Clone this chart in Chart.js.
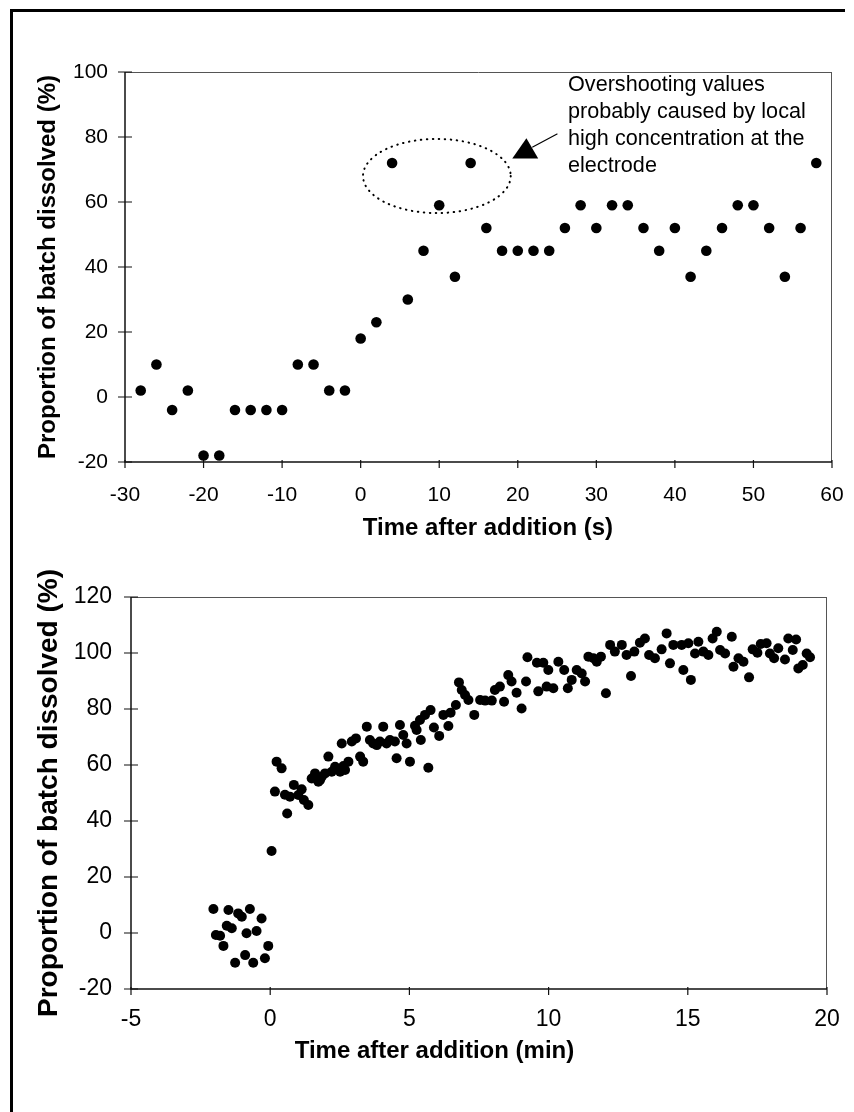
<!DOCTYPE html>
<html><head><meta charset="utf-8">
<script src="https://cdn.jsdelivr.net/npm/chart.js@4"></script>
<style>
html,body{margin:0;padding:0;background:#fff;}
#page{position:relative;width:854px;height:1112px;overflow:hidden;background:#fff;}
canvas{position:absolute;left:0;}
#c1{top:0;} #c2{top:560px;}
#frameL{position:absolute;left:10px;top:9px;width:3px;height:1103px;background:#000;}
#frameT{position:absolute;left:10px;top:9px;width:835px;height:3px;background:#000;}
</style></head>
<body>
<div id="page">
<canvas id="c1" width="854" height="560"></canvas>
<canvas id="c2" width="854" height="552"></canvas>
<div id="frameL"></div><div id="frameT"></div>
</div>
<script>
// ---------- DATA: top chart (seconds) ----------
const topTime = [-28,-26,-24,-22,-20,-18,-16,-14,-12,-10,-8,-6,-4,-2,0,2,4,6,8,10,12,14,16,18,20,22,24,26,28,30,32,34,36,38,40,42,44,46,48,50,52,54,56,58];
const topValue = [2,10,-4,2,-18,-18,-4,-4,-4,-4,10,10,2,2,18,23,72,30,45,59,37,72,52,45,45,45,45,52,59,52,59,59,52,45,52,37,45,52,59,59,52,37,52,72];
const topXTicks = [-30,-20,-10,0,10,20,30,40,50,60];
const topYTicks = [-20,0,20,40,60,80,100];
const topXTitle = "Time after addition (s)";
const yTitle = "Proportion of batch dissolved (%)";
const noteLines = ["Overshooting values","probably caused by local","high concentration at the","electrode"];
const ellipseCenter = [9.7, 68];   // data units (s, %)
const ellipseRadius = [9.4, 11.4]; // data units
const noteAnchor = [26.4, 94.2];   // left/baseline of first note line, data units
const arrowHead = [[21.1,79.6],[19.3,73.4],[22.6,73.4]];
const arrowLine = [[21.9,76.9],[25.0,80.9]];

// ---------- DATA: bottom chart (minutes) ----------
const botTime = [-2.04,-1.95,-1.8,-1.68,-1.56,-1.5,-1.38,-1.26,-1.15,-1.02,-0.9,-0.85,-0.73,-0.61,-0.49,-0.31,-0.19,-0.07,
0.05,0.17,0.23,0.41,0.53,0.61,0.71,0.85,1.01,1.13,1.21,1.37,1.49,1.61,1.73,1.79,1.85,1.97,2.09,2.21,2.33,2.51,2.57,2.63,2.69,2.81,2.93,3.08,3.23,3.34,3.47,3.58,3.70,3.83,3.94,4.06,4.18,4.30,4.48,4.54,4.66,4.78,4.90,5.02,5.20,5.26,5.38,5.41,5.56,5.68,5.76,5.88,6.07,6.22,6.40,6.48,6.67,6.78,6.88,7.0,7.12,7.33,7.54,7.72,7.96,8.07,8.25,8.40,8.55,8.67,8.85,9.03,9.19,9.24,
9.58,9.81,9.63,9.99,9.93,10.17,10.35,10.56,10.69,10.83,11.01,11.19,11.31,11.43,11.61,11.73,11.88,12.06,12.21,12.38,12.63,12.80,12.96,13.08,13.28,13.46,13.61,13.82,14.06,14.24,14.36,14.48,
14.78,14.84,15.02,15.11,15.26,15.38,15.56,15.74,15.89,16.04,16.16,16.34,16.58,16.64,16.82,17.0,17.2,17.33,17.50,17.62,17.83,17.95,18.10,18.25,18.49,18.61,18.77,18.89,18.97,19.13,19.27,19.39];
const botValue = [8.6,-0.7,-1.0,-4.6,2.6,8.2,1.7,-10.6,7.0,5.8,-7.9,-0.1,8.6,-10.6,0.7,5.2,-9.0,-4.6,
29.3,50.5,61.2,58.8,49.4,42.7,48.7,52.9,49.3,51.3,47.5,45.7,55.2,57.0,54.0,54.6,55.8,57.0,63.0,57.6,59.4,57.6,67.7,59.6,58.2,61.2,68.4,69.5,63.0,61.2,73.7,68.9,67.7,67.1,68.4,73.7,67.7,68.9,68.4,62.4,74.3,70.7,67.7,61.2,74.0,72.5,76.1,68.9,77.9,59.0,79.6,73.4,70.4,77.9,73.9,78.7,81.4,89.5,86.8,85.0,83.2,77.9,83.2,83.0,83.0,86.8,88.0,82.6,92.1,89.8,85.8,80.2,89.8,98.5,
96.5,96.5,86.3,93.9,88.0,87.4,96.9,93.9,87.4,90.4,93.9,92.7,89.8,98.7,98.1,96.9,98.7,85.6,102.9,100.5,102.9,99.3,91.8,100.5,103.7,105.2,99.3,98.1,101.3,107.0,96.3,102.9,
102.9,93.9,103.5,90.4,99.8,104.0,100.5,99.3,105.2,107.6,101.1,99.8,105.8,95.1,98.1,96.9,91.3,101.3,100.1,103.2,103.5,99.8,98.1,101.7,97.7,105.2,101.1,104.8,94.5,95.7,99.8,98.5];
const botXTicks = [-5,0,5,10,15,20];
const botYTicks = [-20,0,20,40,60,80,100,120];
const botXTitle = "Time after addition (min)";

// ---------- helpers ----------
const FONT = '"Liberation Sans", Arial, Helvetica, sans-serif';
const toPts = (xs, ys) => xs.map((t, i) => ({x: t, y: ys[i]}));

const frameTicks = {
  id: 'frameTicks',
  beforeDatasetsDraw(chart) {
    const {ctx, chartArea: a, scales: {x, y}} = chart;
    ctx.save();
    ctx.strokeStyle = '#555'; ctx.lineWidth = 1;
    ctx.beginPath();
    ctx.moveTo(a.left, a.top + 0.5); ctx.lineTo(a.right, a.top + 0.5);
    ctx.moveTo(a.right - 0.5, a.top); ctx.lineTo(a.right - 0.5, a.bottom);
    ctx.stroke();
    ctx.strokeStyle = '#111'; ctx.lineWidth = 1.5;
    ctx.beginPath();
    ctx.moveTo(a.left, a.top); ctx.lineTo(a.left, a.bottom); ctx.lineTo(a.right, a.bottom);
    ctx.stroke();
    ctx.lineWidth = 1.2;
    ctx.beginPath();
    x.ticks.forEach(t => { const p = x.getPixelForValue(t.value); ctx.moveTo(p, a.bottom - 2); ctx.lineTo(p, a.bottom + 6); });
    y.ticks.forEach(t => { const p = y.getPixelForValue(t.value); ctx.moveTo(a.left - 7, p); ctx.lineTo(a.left + 7, p); });
    ctx.stroke();
    ctx.restore();
  }
};

const xTitlePlugin = {
  id: 'xTitle',
  afterDraw(chart, args, opts) {
    const {ctx, scales: {x}} = chart;
    ctx.save();
    ctx.font = opts.font;
    ctx.fillStyle = '#000';
    ctx.textAlign = 'center';
    ctx.textBaseline = 'middle';
    ctx.fillText(opts.text, x.getPixelForValue(opts.centerValue), opts.y);
    ctx.restore();
  }
};

const notePlugin = {
  id: 'note',
  afterDatasetsDraw(chart) {
    const {ctx, scales: {x, y}} = chart;
    const X = v => x.getPixelForValue(v), Y = v => y.getPixelForValue(v);
    const cx = X(ellipseCenter[0]), cy = Y(ellipseCenter[1]);
    const rx = Math.abs(X(ellipseCenter[0] + ellipseRadius[0]) - cx);
    const ry = Math.abs(Y(ellipseCenter[1] + ellipseRadius[1]) - cy);
    ctx.save();
    ctx.strokeStyle = '#000'; ctx.lineWidth = 2; ctx.lineCap = 'round';
    ctx.setLineDash([0.5, 5.5]);
    ctx.beginPath(); ctx.ellipse(cx, cy, rx, ry, 0, 0, Math.PI * 2); ctx.stroke();
    ctx.setLineDash([]);
    ctx.lineWidth = 1.2;
    ctx.beginPath();
    ctx.moveTo(X(arrowLine[0][0]), Y(arrowLine[0][1]));
    ctx.lineTo(X(arrowLine[1][0]), Y(arrowLine[1][1]));
    ctx.stroke();
    ctx.fillStyle = '#000';
    ctx.beginPath();
    arrowHead.forEach((p, i) => i ? ctx.lineTo(X(p[0]), Y(p[1])) : ctx.moveTo(X(p[0]), Y(p[1])));
    ctx.closePath(); ctx.fill();
    ctx.font = '21.6px ' + FONT;
    ctx.textAlign = 'left'; ctx.textBaseline = 'alphabetic';
    const lx = X(noteAnchor[0]), ly = Y(noteAnchor[1]);
    noteLines.forEach((s, i) => ctx.fillText(s, lx, ly + i * 27));
    ctx.restore();
  }
};

function makeChart(id, cfg) {
  const fixX = s => { s.height = cfg.xHeight; s.paddingLeft = 0; s.paddingRight = 0; };
  const fixY = s => { s.width = cfg.yWidth; s.paddingTop = 0; s.paddingBottom = 0; };
  return new Chart(document.getElementById(id), {
    type: 'scatter',
    data: { datasets: [{
      data: toPts(cfg.xs, cfg.ys),
      backgroundColor: '#000', borderColor: '#000', borderWidth: 0,
      pointRadius: cfg.radius, pointHoverRadius: cfg.radius
    }]},
    options: {
      responsive: false, animation: false, devicePixelRatio: 1,
      events: [],
      layout: { padding: cfg.padding },
      plugins: { legend: {display: false}, tooltip: {enabled: false},
        xTitle: { text: cfg.xTitle, font: 'bold ' + cfg.xTitleSize + 'px ' + FONT, centerValue: cfg.xTitleCenter, y: cfg.xTitleY } },
      scales: {
        x: {
          type: 'linear', min: cfg.xTicks[0], max: cfg.xTicks[cfg.xTicks.length - 1],
          afterBuildTicks: s => { s.ticks = cfg.xTicks.map(v => ({value: v})); },
          afterFit: fixX,
          grid: { display: false, drawTicks: false }, border: { display: false },
          ticks: { color: '#000', font: { family: FONT, size: cfg.tickSize }, padding: cfg.xTickPad, maxRotation: 0, autoSkip: false },
          title: { display: false }
        },
        y: {
          type: 'linear', min: cfg.yTicks[0], max: cfg.yTicks[cfg.yTicks.length - 1],
          afterBuildTicks: s => { s.ticks = cfg.yTicks.map(v => ({value: v})); },
          afterFit: fixY,
          grid: { display: false, drawTicks: false }, border: { display: false },
          ticks: { color: '#000', font: { family: FONT, size: cfg.tickSize }, padding: cfg.yTickPad, autoSkip: false },
          title: { display: true, text: yTitle, color: '#000', font: { family: FONT, size: cfg.yTitleSize, weight: 'bold' }, padding: { top: cfg.yTitlePad, bottom: 0 } }
        }
      }
    },
    plugins: cfg.plugins
  });
}

makeChart('c1', {
  xs: topTime, ys: topValue, xTicks: topXTicks, yTicks: topYTicks, radius: 5.3,
  padding: {left: 0, top: 72, right: 22, bottom: 0}, yWidth: 125, xHeight: 98,
  tickSize: 21, xTickPad: 21, yTickPad: 17, yTitleSize: 24, yTitlePad: 34,
  xTitle: topXTitle, xTitleSize: 24, xTitleCenter: 16.2, xTitleY: 528,
  plugins: [frameTicks, notePlugin, xTitlePlugin]
});

makeChart('c2', {
  xs: botTime, ys: botValue, xTicks: botXTicks, yTicks: botYTicks, radius: 5,
  padding: {left: 0, top: 37, right: 27, bottom: 0}, yWidth: 131, xHeight: 123,
  tickSize: 23, xTickPad: 17, yTickPad: 19, yTitleSize: 28, yTitlePad: 32,
  xTitle: botXTitle, xTitleSize: 24, xTitleCenter: 5.9, xTitleY: 491,
  plugins: [frameTicks, xTitlePlugin]
});
</script>
</body></html>
